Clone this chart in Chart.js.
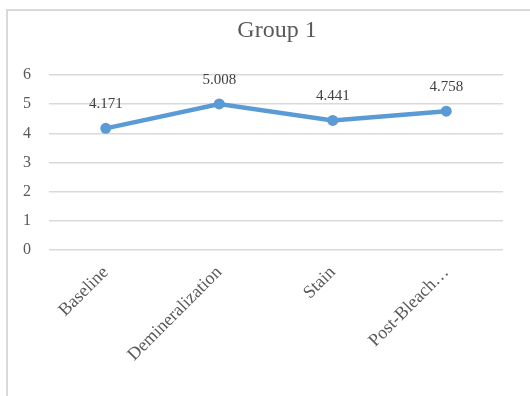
<!DOCTYPE html>
<html>
<head>
<meta charset="utf-8">
<title>Group 1</title>
<script src="https://cdn.jsdelivr.net/npm/chart.js@4.4.0/dist/chart.umd.min.js"></script>
<style>
  html, body { margin: 0; padding: 0; background: #fff; }
  .frame {
    position: absolute; left: 6px; top: 9px;
    width: 600px; height: 500px;
    border: 2px solid #d9d9d9;
  }
  #line-chart { position: absolute; left: 0; top: 0; }
</style>
</head>
<body>
<div class="frame"></div>
<canvas id="line-chart" width="530" height="396"></canvas>
<script>
// Group 1 values per stage
var categories = ["Baseline", "Demineralization", "Stain", "Post-Bleaching"];
var tickLabels = ["Baseline", "Demineralization", "Stain", "Post-Bleach\u2026"];
var values = [4.171, 5.008, 4.441, 4.758];
var yTicks = [0, 1, 2, 3, 4, 5, 6];
var titleText = "Group 1";

var serif = "'Liberation Serif', 'Times New Roman', serif";

// title centred on the frame, value written above each point
var decorations = {
  id: 'decorations',
  afterDatasetsDraw: function(chart) {
    var ctx = chart.ctx;
    var meta = chart.getDatasetMeta(0);
    ctx.save();
    ctx.fillStyle = '#595959';
    ctx.textAlign = 'center';
    ctx.textBaseline = 'alphabetic';
    ctx.font = "24px " + serif;
    ctx.fillText(titleText, 277, 37);

    ctx.font = "15px " + serif;
    ctx.fillStyle = '#404040';
    meta.data.forEach(function(pt, i) {
      ctx.fillText(values[i].toFixed(3), pt.x, pt.y - 20);
    });
    ctx.restore();
  }
};

new Chart(document.getElementById("line-chart"), {
  type: 'line',
  data: {
    labels: categories,
    datasets: [{
      label: titleText,
      data: values,
      borderColor: '#5b9bd5',
      backgroundColor: '#5b9bd5',
      borderWidth: 4.5,
      pointRadius: 5.5,
      pointHoverRadius: 5.5,
      pointBackgroundColor: '#5b9bd5',
      pointBorderWidth: 0,
      tension: 0
    }]
  },
  options: {
    responsive: false,
    animation: false,
    layout: { padding: { left: 0, right: 27, top: 75, bottom: 0 } },
    plugins: {
      legend: { display: false },
      tooltip: { enabled: false },
      title: { display: false }
    },
    scales: {
      x: {
        offset: true,
        grid: { display: false },
        border: { display: false },
        ticks: {
          color: '#595959',
          font: { family: serif, size: 18 },
          minRotation: 45,
          maxRotation: 45,
          autoSkip: false,
          padding: 4,
          callback: function(v, i) { return tickLabels[i]; }
        },
        afterFit: function(scale) { scale.height = 146; }
      },
      y: {
        min: yTicks[0],
        max: yTicks[yTicks.length - 1],
        grid: { color: '#d9d9d9', lineWidth: 1.5, drawTicks: false },
        border: { display: false },
        ticks: {
          stepSize: 1,
          color: '#595959',
          font: { family: serif, size: 16 },
          padding: 18
        },
        afterFit: function(scale) { scale.width = 49; }
      }
    }
  },
  plugins: [decorations]
});
</script>
</body>
</html>
